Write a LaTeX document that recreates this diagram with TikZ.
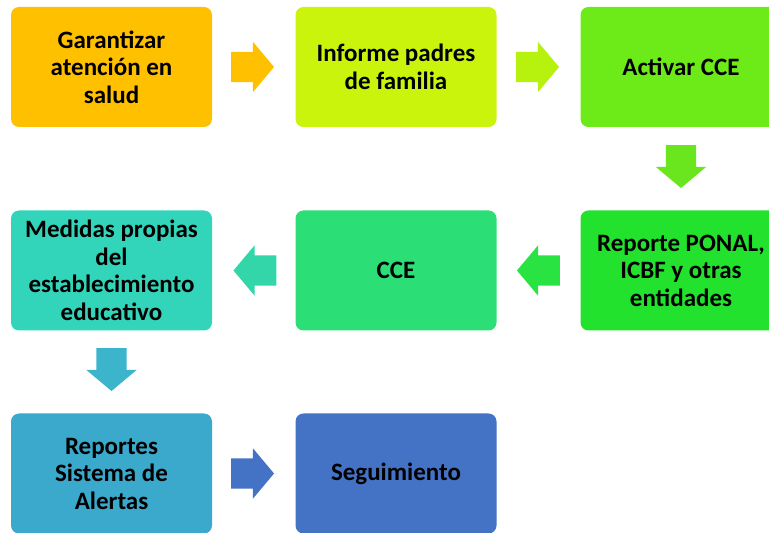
\documentclass[tikz,border=0pt]{standalone}
\usepackage{fontspec}
\setmainfont{Carlito}
\usetikzlibrary{calc}
\usetikzlibrary{shapes.arrows}

\definecolor{naranja}{HTML}{FFC000}
\definecolor{lima}{HTML}{CAF40C}
\definecolor{limaflecha}{HTML}{B6F20E}
\definecolor{verdeclaro}{HTML}{6DEB19}
\definecolor{verdeflecha}{HTML}{6AE61E}
\definecolor{verde}{HTML}{22E22E}
\definecolor{verdeagua}{HTML}{29E343}
\definecolor{menta}{HTML}{2BDF76}
\definecolor{mentaflecha}{HTML}{33D6A8}
\definecolor{turquesa}{HTML}{33D5BA}
\definecolor{celeste}{HTML}{3BB4CC}
\definecolor{cian}{HTML}{3BA9CB}
\definecolor{azul}{HTML}{4472C4}

\begin{document}
\begin{tikzpicture}[x=1pt,y=1pt,line cap=round]
	\tikzstyle{paso}=[rounded corners=8pt,minimum width=201pt,minimum height=120pt,inner sep=0pt,align=center,text=black,font=\fontsize{25}{27.5}\selectfont\bfseries];
	\tikzstyle{flecha}=[single arrow,anchor=tip,minimum height=43pt,single arrow head extend=10pt,single arrow tip angle=100,inner xsep=0pt,inner ysep=15pt];
	\clip (0,0) rectangle (769,533);
	%% Row 1
	\node[paso,fill=naranja]    (salud)    at (111.5,466) {Garantizar\\atención en\\salud};
	\node[paso,fill=lima]       (informe)  at (396,466)   {Informe padres\\de familia};
	\node[paso,fill=verdeclaro] (activar)  at (681,466)   {Activar CCE};
	%% Row 2
	\node[paso,fill=verde]      (reporte)  at (681,262.5) {Reporte PONAL,\\ICBF y otras\\entidades};
	\node[paso,fill=menta]      (cce)      at (396,262.5) {CCE};
	\node[paso,fill=turquesa]   (medidas)  at (111.5,262.5) {Medidas propias\\del\\establecimiento\\educativo};
	%% Row 3
	\node[paso,fill=cian]       (alertas)  at (111.5,59.5) {Reportes\\Sistema de\\Alertas};
	\node[paso,fill=azul]       (seguim)   at (396,59.5)  {Seguimiento};
	%% Arrows (tip 21pt before the next box)
	\node[flecha,fill=naranja]                at ($(informe.west)+(-21,0)$) {};
	\node[flecha,fill=limaflecha]             at ($(activar.west)+(-21,0)$) {};
	\node[flecha,fill=verdeflecha,rotate=-90] at ($(reporte.north)+(0,22)$) {};
	\node[flecha,fill=verdeagua,rotate=180]   at ($(cce.east)+(20,0)$) {};
	\node[flecha,fill=mentaflecha,rotate=180] at ($(medidas.east)+(21,0)$) {};
	\node[flecha,fill=celeste,rotate=-90]     at ($(alertas.north)+(0,22)$) {};
	\node[flecha,fill=azul]                   at ($(seguim.west)+(-21,0)$) {};
\end{tikzpicture}
\end{document}
